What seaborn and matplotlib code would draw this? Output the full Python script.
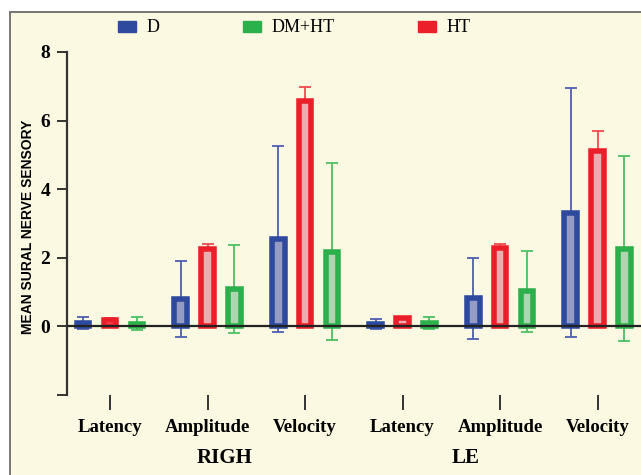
import pandas as pd
import matplotlib.pyplot as plt
import seaborn as sns
from matplotlib.patches import Patch, Rectangle

# =========================
# DATA
# =========================

measures = ["Latency", "Amplitude", "Velocity"]
sides = ["RIGH", "LE"]
groups = ["D", "HT", "DM+HT"]
legend_order = ["D", "DM+HT", "HT"]

# mean values, order: RIGH (Latency, Amplitude, Velocity), LE (Latency, Amplitude, Velocity)
mean_d = [0.09, 0.80, 2.55, 0.07, 0.82, 3.32]
mean_ht = [0.20, 2.25, 6.58, 0.24, 2.28, 5.10]
mean_dmht = [0.08, 1.10, 2.17, 0.10, 1.02, 2.27]

# standard deviations
sd_d = [0.17, 1.10, 2.72, 0.15, 1.18, 3.63]
sd_ht = [0.05, 0.16, 0.39, 0.03, 0.11, 0.59]
sd_dmht = [0.19, 1.28, 2.58, 0.17, 1.19, 2.70]

edge_colors = {"D": "#2e4a9e", "HT": "#ea1f2a", "DM+HT": "#2cb04c"}
fill_colors = {"D": "#8d96cc", "HT": "#f4a3aa", "DM+HT": "#a6dcaa"}
err_colors = {"D": "#4f5fb0", "HT": "#ef4a50", "DM+HT": "#4cc063"}

# =========================
# BUILD TABLE
# =========================

keys = [s + " " + m for s in sides for m in measures]
means = {"D": mean_d, "HT": mean_ht, "DM+HT": mean_dmht}
sds = {"D": sd_d, "HT": sd_ht, "DM+HT": sd_dmht}

rows = []
for g in groups:
    for i, k in enumerate(keys):
        rows.append({"key": k, "group": g, "mean": means[g][i], "sd": sds[g][i]})
df = pd.DataFrame(rows)

# =========================
# PLOT
# =========================

sns.set_style("ticks")
plt.rcParams["font.family"] = ["Liberation Serif", "DejaVu Serif"]
plt.rcParams["text.color"] = "black"
plt.rcParams["xtick.labelcolor"] = "black"
plt.rcParams["ytick.labelcolor"] = "black"
plt.rcParams["axes.labelcolor"] = "black"

fig = plt.figure(figsize=(6.41, 4.75), dpi=100)
fig.patch.set_facecolor("white")
cream = "#fcf9e2"
fig.patches.append(Rectangle((10 / 641, -0.05), 1.0, 1 - 11.5 / 475 + 0.05,
                             transform=fig.transFigure, facecolor=cream,
                             edgecolor="#6b6b6b", linewidth=1.3, zorder=-5))

ax = fig.add_axes([67 / 641, 80 / 475, 1 - 67 / 641, 343 / 475])
ax.set_facecolor("none")
ax.set_zorder(2)

sns.barplot(data=df, x="key", y="mean", hue="group", order=keys, hue_order=groups,
            palette=fill_colors, errorbar=None, width=0.83, gap=0.52,
            legend=False, ax=ax, zorder=2)

# outline each bar with the dark colour and draw mean +/- sd
for container, g in zip(ax.containers, groups):
    for bar, sd in zip(container, sds[g]):
        bar.set_edgecolor(edge_colors[g])
        bar.set_linewidth(4)
        cx = bar.get_x() + bar.get_width() / 2
        h = bar.get_height()
        ax.errorbar(cx, h, yerr=sd, color=err_colors[g], elinewidth=1.3,
                    capsize=4, capthick=1.3, zorder=1)

ax.axhline(0, color="#222222", linewidth=1.6, zorder=3)

ax.set_ylim(-2, 8)
ax.set_xlim(-0.441, 5.446)
ax.set_yticks([-2, 0, 2, 4, 6, 8])
ax.set_yticklabels(["", "0", "2", "4", "6", "8"], fontsize=14, fontweight="bold")
ax.set_xticks(range(len(keys)))
ax.set_xticklabels(measures * 2, fontsize=13.5, fontweight="bold")
ax.tick_params(axis="y", length=7, width=1.4, color="#333333", pad=5)
ax.tick_params(axis="x", length=11, width=1.4, color="#333333", pad=6)
ax.set_xlabel("")
ax.set_ylabel("MEAN SURAL NERVE SENSORY", fontsize=10, fontweight="bold",
              family=["Liberation Sans", "DejaVu Sans"])
ax.yaxis.set_label_coords(-0.055, 0.49)

sns.despine(ax=ax, bottom=True)
ax.spines["left"].set_linewidth(1.6)
ax.spines["left"].set_color("#333333")

# side labels under the measures
fig.text(225 / 641, 1 - 458 / 475, "RIGH", ha="center", va="center",
         fontsize=15, fontweight="bold")
fig.text(466 / 641, 1 - 458 / 475, "LE", ha="center", va="center",
         fontsize=15, fontweight="bold")

handles = [Patch(facecolor=edge_colors[g], edgecolor=edge_colors[g]) for g in legend_order]
fig.legend(handles, legend_order, loc="center", bbox_to_anchor=(0.459, 1 - 28 / 475),
           ncol=3, frameon=False, fontsize=13, handlelength=1.0, handleheight=0.55,
           handletextpad=0.6, columnspacing=4.6)

plt.savefig("out.png", dpi=100)
